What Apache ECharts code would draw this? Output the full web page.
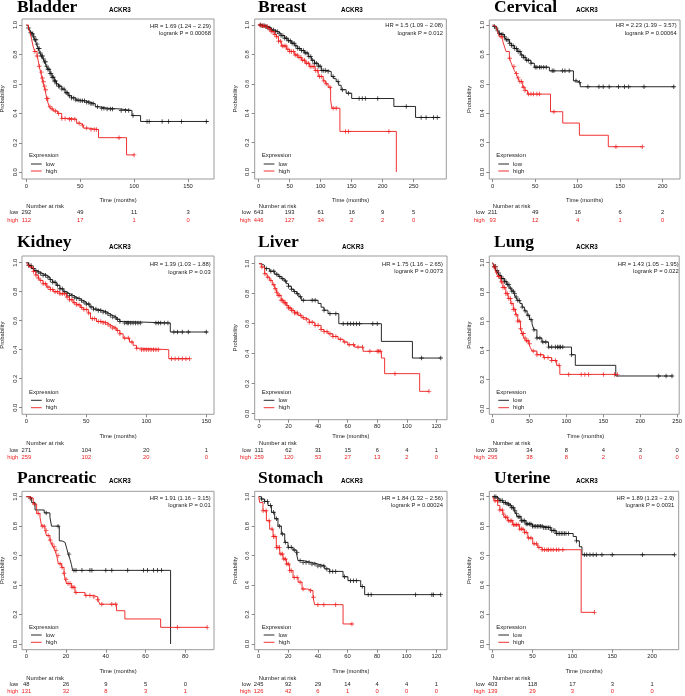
<!DOCTYPE html>
<html>
<head>
<meta charset="utf-8">
<script src="https://cdn.jsdelivr.net/npm/echarts@6/dist/echarts.min.js"></script>
<style>
  html, body { margin: 0; padding: 0; background: #fff; }
  #chart { width: 685px; height: 696px; }
</style>
</head>
<body>
<div id="chart"></div>
<script>
// ---- data ----
const cancers = ['Bladder', 'Breast', 'Cervical', 'Kidney', 'Liver', 'Lung', 'Pancreatic', 'Stomach', 'Uterine'];
const gene = 'ACKR3';
const hrTexts = [
  'HR = 1.69 (1.24 − 2.29)', 'HR = 1.5 (1.09 − 2.08)', 'HR = 2.23 (1.39 − 3.57)',
  'HR = 1.39 (1.03 − 1.88)', 'HR = 1.75 (1.16 − 2.65)', 'HR = 1.43 (1.05 − 1.95)',
  'HR = 1.91 (1.16 − 3.15)', 'HR = 1.84 (1.32 − 2.56)', 'HR = 1.89 (1.23 − 2.9)'
];
const pTexts = [
  'logrank P = 0.00068', 'logrank P = 0.012', 'logrank P = 0.00064',
  'logrank P = 0.03', 'logrank P = 0.0073', 'logrank P = 0.022',
  'logrank P = 0.01', 'logrank P = 0.00024', 'logrank P = 0.0031'
];
const xTicks = [
  [0, 50, 100, 150], [0, 50, 100, 150, 200, 250], [0, 50, 100, 150, 200],
  [0, 50, 100, 150], [0, 20, 40, 60, 80, 100, 120], [0, 50, 100, 150, 200, 250],
  [0, 20, 40, 60, 80], [0, 20, 40, 60, 80, 100, 120], [0, 50, 100, 150, 200]
];
const yTicks = [0, 0.2, 0.4, 0.6, 0.8, 1.0];
const riskLow = [
  [292, 49, 11, 3], [643, 193, 61, 16, 9, 5], [211, 49, 16, 6, 2],
  [271, 104, 20, 1], [111, 62, 31, 15, 6, 4, 1], [209, 34, 8, 4, 3, 0],
  [48, 26, 9, 5, 0], [245, 92, 29, 14, 4, 4, 1], [403, 118, 17, 3, 1]
];
const riskHigh = [
  [112, 17, 1, 0], [446, 127, 34, 2, 2, 0], [93, 12, 4, 1, 0],
  [259, 102, 20, 0], [259, 120, 53, 27, 13, 2, 0], [295, 38, 8, 2, 0, 0],
  [131, 32, 8, 3, 1], [126, 42, 6, 1, 0, 0, 0], [139, 29, 3, 0, 0]
];

// survival curves [months, probability] and censor times
const bladderLow = [[0,1],[1,0.99],[2,0.98],[3,0.965],[4,0.95],[5,0.94],[6.5,0.92],[8,0.9],[9.5,0.87],[11,0.84],[12.5,0.81],[14,0.79],[15.5,0.77],[17,0.75],[18.5,0.72],[20,0.7],[22,0.67],[24,0.645],[26,0.62],[28,0.6],[30,0.585],[33,0.565],[36,0.54],[39,0.52],[42,0.505],[46,0.49],[50,0.485],[55,0.475],[60,0.465],[64,0.445],[68,0.435],[75,0.43],[87,0.42],[98,0.385],[106,0.345],[169,0.345]];
const bladderLowCens = [2,4,5,6,7,8,9,10,11,12,13,14,15,16,17,18,19,20,21,22,23,24,25,26,27,28,30,31,33,35,37,38,40,42,44,46,48,50,52,54,56,58,60,62,66,70,72,75,78,80,88,92,95,99,112,114,126,132,144,167];
const bladderHigh = [[0,1],[2,0.97],[3.5,0.95],[5,0.9],[6.5,0.85],[8,0.82],[10,0.79],[11,0.76],[12,0.72],[13.3,0.68],[14.5,0.64],[15.2,0.615],[16.3,0.585],[17.3,0.56],[18.2,0.53],[19,0.5],[20.2,0.47],[21.3,0.445],[23,0.43],[25,0.416],[29,0.4],[32.8,0.366],[40,0.36],[46.7,0.333],[50,0.32],[53,0.3],[57.5,0.29],[67,0.235],[93,0.118],[100,0.118]];
const bladderHighCens = [8,10,12,14,15,16,17,18,19,20,22,24,27,30,33,36,40,42,45,49,52,56,60,63,65,86,100];

const breastLow = [[0,1],[5,0.995],[10,0.99],[15,0.98],[20,0.966],[25,0.955],[31,0.943],[36,0.928],[42,0.91],[47,0.893],[52.7,0.876],[58,0.858],[63,0.84],[68,0.826],[74,0.81],[80,0.785],[85,0.76],[90,0.74],[96,0.72],[101,0.69],[112,0.683],[117,0.65],[121,0.635],[125,0.615],[129,0.59],[133,0.56],[141,0.536],[150,0.5],[218,0.446],[253,0.371],[293,0.371]];
const breastLowCens = [3,6,9,12,15,18,21,24,27,30,33,36,39,42,45,48,51,54,57,60,63,66,69,72,75,78,81,84,87,90,93,96,99,102,105,108,112,120,128,135,145,162,167,172,192,238,262,270,282,288];
const breastHigh = [[0,1],[5,0.995],[9.7,0.99],[15,0.975],[20,0.955],[25,0.935],[28.5,0.92],[32,0.89],[36.6,0.857],[44.6,0.835],[50,0.82],[58,0.796],[63,0.78],[69,0.76],[75,0.74],[82,0.717],[91,0.69],[96,0.65],[104,0.62],[108,0.6],[112,0.577],[116,0.49],[118,0.434],[131,0.276],[222,0]];
const breastHighCens = [2,5,8,11,14,17,20,23,26,29,32,35,38,41,44,47,50,53,56,59,62,65,68,71,74,77,80,83,86,89,92,95,98,101,105,109,115,120,125,140,145,210];

const cervicalLow = [[0,1],[2,0.99],[4,0.98],[6,0.96],[7.8,0.943],[10,0.935],[13.7,0.92],[16,0.9],[19.6,0.876],[22,0.86],[25.5,0.84],[29,0.82],[33,0.796],[36,0.78],[39,0.76],[45,0.74],[49,0.713],[66.7,0.688],[95,0.62],[99,0.61],[103,0.58],[214,0.58]];
const cervicalLowCens = [2,4,6,8,10,12,14,16,18,20,22,24,26,28,30,32,34,36,38,40,42,45,50,52,55,57,60,63,70,72,82,85,90,98,102,112,125,130,137,148,155,160,178,213];
const cervicalHigh = [[0,1],[2,0.99],[4,0.98],[6,0.95],[7.8,0.92],[11.8,0.89],[14,0.85],[15.7,0.82],[19.6,0.774],[21.5,0.745],[23.5,0.717],[25.5,0.69],[27.5,0.67],[29.5,0.64],[31.4,0.615],[35.3,0.577],[38,0.555],[41,0.53],[68,0.41],[82.4,0.333],[102,0.25],[136,0.172],[176,0.172]];
const cervicalHighCens = [10,20,25,28,30,32,34,36,38,42,45,48,52,55,72,145,176];

const kidneyLow = [[0,1],[2,0.98],[4.4,0.96],[6.5,0.945],[8.6,0.936],[11,0.925],[14,0.913],[17,0.9],[19.7,0.883],[22,0.865],[25,0.844],[28,0.82],[30.8,0.8],[33,0.788],[36,0.775],[39,0.762],[42,0.752],[44.5,0.74],[47,0.729],[50,0.715],[53,0.695],[56,0.68],[58.5,0.67],[64,0.66],[67,0.648],[69.6,0.637],[72,0.625],[75,0.61],[78,0.595],[80.7,0.584],[120,0.522],[151,0.522]];
const kidneyLowCens = [2,4,6,8,10,12,14,16,18,20,22,24,26,28,30,32,34,36,38,40,42,44,46,48,50,52,54,56,58,60,62,64,66,68,70,72,74,76,78,82,84,85,87,89,91,93,95,108,110,112,115,118,123,126,130,135,150];
const kidneyHigh = [[0,1],[1.5,0.985],[3,0.97],[5.8,0.94],[8,0.915],[10,0.895],[11.4,0.878],[14,0.855],[17,0.832],[20,0.815],[22.5,0.8],[28,0.786],[33.5,0.763],[36,0.745],[39,0.724],[42,0.71],[45,0.692],[47.4,0.678],[51.6,0.653],[53.5,0.614],[58.5,0.595],[64,0.586],[67,0.575],[69.6,0.563],[72,0.55],[75,0.533],[78,0.51],[80.7,0.48],[86,0.453],[89,0.43],[91.8,0.41],[96,0.4],[118.7,0.338],[136,0.338]];
const kidneyHighCens = [2,4,6,8,10,12,14,16,18,20,22,24,26,28,30,32,34,36,38,40,42,44,46,48,50,52,55,57,60,62,64,66,68,70,72,74,76,78,82,85,88,92,96,98,100,102,104,106,108,110,121,124,127,130,133,136];

const liverLow = [[0,1],[1.6,0.989],[3.8,0.967],[7.2,0.95],[10.6,0.93],[13,0.915],[15,0.9],[17,0.885],[18.5,0.867],[20,0.85],[21.9,0.83],[23.5,0.815],[25.3,0.8],[27,0.78],[28.6,0.756],[40,0.735],[42,0.71],[44,0.69],[46.7,0.667],[54,0.6],[82.8,0.482],[103.8,0.371],[123,0.371]];
const liverLowCens = [5,8,10,12,14,16,18,20,22,24,26,28,30,36,38,44,48,52,57,60,62,64,66,68,77,80,110,123];
const liverHigh = [[0,1],[1.6,0.978],[3.8,0.933],[5.5,0.91],[7.2,0.889],[9,0.86],[10.6,0.833],[12,0.81],[12.9,0.789],[15,0.756],[16.8,0.74],[18.5,0.722],[20,0.705],[21.9,0.689],[24,0.672],[26.4,0.656],[29,0.64],[31,0.629],[34,0.61],[37.7,0.589],[42,0.561],[44,0.547],[46.7,0.533],[50,0.515],[53.5,0.496],[57,0.478],[60,0.46],[64.7,0.444],[70.4,0.416],[82.8,0.371],[85,0.267],[108.7,0.149],[115,0.149]];
const liverHighCens = [2,4,6,8,10,11,12,13,14,15,16,17,18,19,20,21,22,23,24,25,26,28,30,32,34,36,38,40,42,44,46,48,50,52,55,58,61,64,67,70,75,80,81,82,92,115];

const lungLow = [[0,1],[2,0.975],[4.4,0.947],[7,0.93],[8.9,0.913],[12,0.892],[15.6,0.872],[19,0.85],[22.2,0.826],[26,0.805],[29,0.788],[31,0.765],[33.4,0.742],[37,0.72],[40,0.696],[43,0.67],[46.7,0.64],[50,0.61],[53.4,0.58],[56,0.54],[60,0.484],[66.7,0.457],[75.6,0.422],[106.8,0.37],[112,0.297],[166.8,0.224],[243.8,0.224]];
const lungLowCens = [2,4,6,8,10,12,14,16,18,20,22,24,26,28,30,32,34,36,40,44,48,52,56,60,64,68,72,76,80,85,88,90,92,95,107,225,235,243];
const lungHigh = [[0,1],[2,0.97],[4.4,0.936],[7,0.905],[11,0.868],[14,0.83],[17.8,0.788],[21,0.755],[24.5,0.72],[28,0.68],[31,0.644],[34,0.6],[37.8,0.548],[40,0.515],[42.3,0.484],[45,0.465],[49,0.445],[51,0.42],[53.4,0.395],[60,0.37],[69,0.35],[80,0.33],[86.7,0.297],[91,0.235],[169,0.235]];
const lungHighCens = [2,4,6,8,10,12,14,16,18,20,22,24,26,28,30,32,34,36,38,40,42,44,46,48,50,55,60,65,70,75,80,85,90,103,120,125,130,150,165,169];

const pancreaticLow = [[0,1],[1.5,0.99],[2.7,0.96],[4.4,0.91],[9,0.89],[11.9,0.86],[12.7,0.8],[16.6,0.7],[18,0.69],[19.5,0.68],[20.3,0.65],[21.1,0.61],[22,0.575],[22.7,0.54],[23.3,0.5],[72.6,0]];
const pancreaticLowCens = [2,10,16,21.5,24,25,28,32,33,40,43,51,59,61,64,66,68];
const pancreaticHigh = [[0,1],[1.8,0.99],[3.5,0.95],[5.2,0.887],[6.9,0.86],[7.7,0.8],[9.4,0.77],[10.2,0.736],[11.9,0.706],[12.7,0.68],[13.5,0.66],[14.4,0.634],[15.3,0.6],[16.1,0.545],[17.8,0.52],[19,0.48],[19.5,0.44],[20.3,0.41],[22.8,0.385],[24.5,0.35],[29.5,0.33],[33.7,0.32],[36,0.3],[37,0.27],[45.4,0.226],[49.6,0.17],[67.6,0.113],[91,0.113]];
const pancreaticHighCens = [2,4,6,8,9,10,11,12,13,14,15,16,17,18,19,20,21,22,23,24,25,30,32,34,36,38,43,45,76,91];

const stomachLow = [[0,1],[1.8,0.984],[4,0.968],[6.3,0.94],[8.6,0.894],[10.8,0.85],[13,0.8],[15.3,0.747],[17.6,0.69],[19.8,0.656],[23.2,0.638],[25.4,0.62],[26.6,0.566],[30,0.554],[35.6,0.543],[40,0.53],[44.6,0.51],[48,0.493],[57,0.457],[60.3,0.43],[68.9,0.39],[71.6,0.335],[123,0.335]];
const stomachLowCens = [2,4,6,8,10,12,14,16,18,20,22,24,26,28,30,32,34,36,38,40,42,44,46,48,50,52,58,62,64,66,70,74,76,106,117,118,123];
const stomachHigh = [[0,1],[0.7,0.96],[2.9,0.905],[5.2,0.837],[7.4,0.78],[9.7,0.73],[11.9,0.656],[14.2,0.611],[16.4,0.577],[18.7,0.543],[20.9,0.498],[23.2,0.452],[26.6,0.42],[29.3,0.373],[33.3,0.362],[36.7,0.317],[37.8,0.267],[57,0.136],[63.3,0.136]];
const stomachHighCens = [3,5,7,9,10,11,12,13,14,15,16,17,18,19,20,21,22,24,26,28,30,35,37,40,44,52,63];

const uterineLow = [[0,1],[4.2,0.99],[8,0.975],[12.6,0.96],[17,0.95],[21,0.94],[24,0.925],[27,0.905],[29,0.885],[31.4,0.864],[35.6,0.837],[41.8,0.815],[50,0.8],[62.8,0.79],[73,0.77],[79.5,0.75],[101,0.73],[105,0.7],[108.8,0.66],[112,0.606],[228,0.606]];
const uterineLowCens = [2,4,6,8,10,12,14,16,18,20,22,24,26,28,30,32,34,36,38,40,42,44,46,48,50,52,54,56,58,60,62,64,66,68,70,72,74,76,78,80,82,84,86,88,90,92,95,105,115,118,122,126,130,137,150,188,228];
const uterineHigh = [[0,1],[2,0.973],[6.3,0.94],[9,0.91],[12.6,0.882],[15,0.86],[18.8,0.837],[25,0.81],[33.5,0.78],[39.7,0.758],[44,0.72],[50.2,0.68],[56.5,0.656],[62,0.64],[111,0.215],[127.6,0.215]];
const uterineHighCens = [3,6,9,12,14,16,18,20,22,24,26,28,30,32,34,36,38,40,42,45,48,52,55,58,62,65,68,70,73,76,80,83,88,127.6];

const lowCurves = [bladderLow, breastLow, cervicalLow, kidneyLow, liverLow, lungLow, pancreaticLow, stomachLow, uterineLow];
const lowCens = [bladderLowCens, breastLowCens, cervicalLowCens, kidneyLowCens, liverLowCens, lungLowCens, pancreaticLowCens, stomachLowCens, uterineLowCens];
const highCurves = [bladderHigh, breastHigh, cervicalHigh, kidneyHigh, liverHigh, lungHigh, pancreaticHigh, stomachHigh, uterineHigh];
const highCens = [bladderHighCens, breastHighCens, cervicalHighCens, kidneyHighCens, liverHighCens, lungHighCens, pancreaticHighCens, stomachHighCens, uterineHighCens];

// ---- layout (pixels) ----
// plot box L,T,R,B ; pixel of x=0 and px per month ; pixel of y=1 and y=0
const boxes = [
  [22, 19, 214, 179, 26.3, 1.078, 25, 172.3],
  [254.7, 19, 446.3, 179, 258.7, 0.62, 25, 172],
  [489.3, 20, 680, 179, 492.7, 0.85, 25, 172],
  [22, 256, 214, 414.3, 26.3, 1.2, 262.7, 407.7],
  [254.7, 256, 447, 419.7, 259, 1.478, 263.7, 413.7],
  [489.3, 256, 682, 414.3, 492.7, 0.749, 262.7, 408.7],
  [22, 491.3, 214, 649.7, 26.3, 1.9875, 496.7, 644],
  [254.7, 491.3, 447, 649.7, 258.7, 1.48, 496.7, 644],
  [489.3, 491.3, 678.7, 649.7, 492.7, 0.797, 496.7, 644]
];
// title: left x, middle of capitals
const titlePos = [[17, 7.8], [258, 7.8], [494, 7.8], [17, 242.3], [258, 242.3], [494, 242.8], [17, 478.8], [258, 478.8], [494, 478.8]];
const genePos = [[109, 10], [341, 10], [576, 10], [109, 247], [342, 247], [576, 247], [109, 481], [341, 481], [576, 481]];
const hrPos = [[211, 26, 33.3], [443, 25.7, 33.3], [676.7, 25.7, 33.3], [210.7, 264.3, 272], [443, 264.3, 271.3],
  [678.7, 264.3, 271.3], [210.7, 498.3, 505.7], [443, 498.3, 505.7], [674.3, 498.3, 505.7]];
// per row: time label, number at risk, low row, high row, legend title, legend low, legend high
const rowY = [
  [200, 206.7, 212.7, 220, 155.3, 164, 171],
  [436, 443, 450.3, 457.3, 392, 400.3, 407.7],
  [671.3, 678, 684.7, 691.7, 627.3, 635, 642.3]
];

const BLACK = '#111';
const RED = '#ee1c1c';
const TXT = '#222';
const SANS = '"Liberation Sans", Arial, sans-serif';
const PLUS = 'path://M4,0H6V4H10V6H6V10H4V6H0V4H4Z';

function survAt(curve, t) {
  let s = 1;
  for (let k = 0; k < curve.length; k++) {
    if (curve[k][0] <= t) s = curve[k][1];
  }
  return s;
}

const chart = echarts.init(document.getElementById('chart'));
const grids = [], xAxes = [], yAxes = [], series = [];

cancers.forEach((name, i) => {
  const [L, T, R, B, x0, sx, y1, y0] = boxes[i];
  const sy = y0 - y1;
  grids.push({
    left: L, top: T, width: R - L, height: B - T,
    show: true, borderColor: '#9a9a9a', borderWidth: 1, backgroundColor: 'transparent'
  });
  xAxes.push({
    type: 'value', gridIndex: i,
    min: (L - x0) / sx, max: (R - x0) / sx,
    axisLine: { show: false, onZero: false },
    splitLine: { show: false },
    axisTick: { show: true, length: 3, customValues: xTicks[i], lineStyle: { color: '#888', width: 1 } },
    axisLabel: { customValues: xTicks[i], margin: 4, fontSize: 5.8, color: TXT, fontFamily: SANS }
  });
  yAxes.push({
    type: 'value', gridIndex: i,
    min: (y0 - B) / sy, max: (y0 - T) / sy,
    axisLine: { show: false, onZero: false },
    splitLine: { show: false },
    axisTick: { show: true, length: 3, customValues: yTicks, lineStyle: { color: '#888', width: 1 } },
    axisLabel: {
      customValues: yTicks, rotate: 90, margin: 4, fontSize: 5.8, color: TXT, fontFamily: SANS,
      formatter: v => v.toFixed(1)
    }
  });
  [[lowCurves[i], lowCens[i], BLACK], [highCurves[i], highCens[i], RED]].forEach(([curve, cens, col]) => {
    series.push({
      type: 'line', xAxisIndex: i, yAxisIndex: i, data: curve, step: 'end',
      symbol: 'none', silent: true, lineStyle: { color: col, width: 0.9 }
    });
    series.push({
      type: 'scatter', xAxisIndex: i, yAxisIndex: i,
      data: cens.map(t => [t, survAt(curve, t)]),
      symbol: PLUS, symbolSize: 4.5, silent: true, itemStyle: { color: col }
    });
  });
});

chart.setOption({
  animation: false,
  grid: grids, xAxis: xAxes, yAxis: yAxes, series: series
});

// text parts placed with the axes' own scales
const graphics = [];
function txt(x, y, text, font, fill, align, vAlign, rot) {
  graphics.push({
    type: 'text', x: x, y: y, rotation: rot || 0, silent: true,
    style: { text: text, x: 0, y: 0, font: font, fill: fill, textAlign: align || 'left', textVerticalAlign: vAlign || 'middle' }
  });
}
const small = '5.8px ' + SANS;

cancers.forEach((name, i) => {
  const [L, T, R, B] = boxes[i];
  const row = rowY[Math.floor(i / 3)];
  txt(titlePos[i][0], titlePos[i][1], name, 'bold 17.5px "Liberation Serif", "Times New Roman", serif', '#000', 'left', 'middle');
  txt(genePos[i][0], genePos[i][1], gene, 'bold 6.3px ' + SANS, '#000', 'left', 'middle');
  txt(hrPos[i][0], hrPos[i][1], hrTexts[i], small, TXT, 'right', 'middle');
  txt(hrPos[i][0], hrPos[i][2], pTexts[i], small, TXT, 'right', 'middle');
  txt(L - 19.5, (T + B) / 2, 'Probability', small, TXT, 'center', 'middle', Math.PI / 2);
  txt((L + R) / 2, row[0], 'Time (months)', small, TXT, 'center', 'middle');

  const px0 = chart.convertToPixel({ xAxisIndex: i }, 0);
  txt(px0, row[1], 'Number at risk', small, TXT, 'left', 'middle');
  txt(px0 - 8, row[2], 'low', small, TXT, 'right', 'middle');
  txt(px0 - 8, row[3], 'high', small, RED, 'right', 'middle');
  xTicks[i].forEach((t, k) => {
    const px = chart.convertToPixel({ xAxisIndex: i }, t);
    txt(px, row[2], String(riskLow[i][k]), small, TXT, 'center', 'middle');
    txt(px, row[3], String(riskHigh[i][k]), small, RED, 'center', 'middle');
  });

  // legend
  txt(L + 7, row[4], 'Expression', '6px ' + SANS, TXT, 'left', 'middle');
  [[row[5], 'low', BLACK], [row[6], 'high', RED]].forEach(([yy, lab, col]) => {
    graphics.push({
      type: 'line', silent: true,
      shape: { x1: L + 9, y1: yy, x2: L + 19.7, y2: yy },
      style: { stroke: col, lineWidth: 0.9 }
    });
    txt(L + 23.7, yy, lab, '6px ' + SANS, TXT, 'left', 'middle');
  });
});

chart.setOption({ graphic: graphics });
</script>
</body>
</html>
